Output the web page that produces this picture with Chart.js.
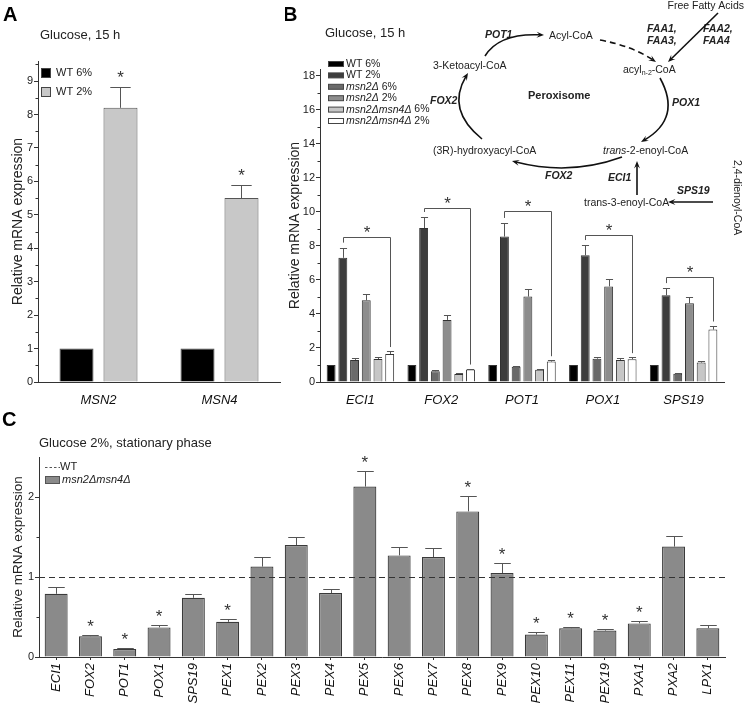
<!DOCTYPE html>
<html>
<head>
<meta charset="utf-8">
<script src="https://cdn.jsdelivr.net/npm/chart.js"></script>
<style>
  html,body{margin:0;padding:0;background:#fff;}
  #wrap{position:relative;width:745px;height:704px;overflow:hidden;}
  .box{position:absolute;}
</style>
</head>
<body>
<div id="wrap">
  <div class="box" style="left:0;top:0;width:285px;height:405px"><canvas id="cA"></canvas></div>
  <div class="box" style="left:285px;top:0;width:460px;height:405px"><canvas id="cB"></canvas></div>
  <div class="box" style="left:0;top:400px;width:745px;height:304px"><canvas id="cC"></canvas></div>
</div>
<script>
// ---- panel A data
const genesA = ['MSN2', 'MSN4'];
const aWt6 = [1, 1];
const aWt2 = [8.2, 5.5];
const aWt2Err = [8.83, 5.88];
const aWt2Sig = [1, 1];

// ---- panel B data
const genesB = ['ECI1', 'FOX2', 'POT1', 'POX1', 'SPS19'];
const bWt6 = [1, 1, 1, 1, 1];
const bWt2 = [7.3, 9.05, 8.55, 7.45, 5.1];
const bWt2Err = [7.9, 9.7, 9.35, 8.05, 5.52];
const bMsn2_6 = [1.3, 0.63, 0.9, 1.37, 0.48];
const bMsn2_6Err = [1.42, 0.68, 0.96, 1.49, 0.52];
const bMsn2_2 = [4.8, 3.65, 5.02, 5.62, 4.63];
const bMsn2_2Err = [5.15, 3.94, 5.48, 6.06, 5.02];
const bDd6 = [1.35, 0.47, 0.72, 1.3, 1.14];
const bDd6Err = [1.47, 0.52, 0.78, 1.41, 1.22];
const bDd2 = [1.65, 0.73, 1.2, 1.34, 3.08];
const bDd2Err = [1.82, 0.79, 1.28, 1.46, 3.32];
const bBracket = [8.5, 10.2, 10.08, 8.65, 6.2];

// ---- panel C data
const genesC = ['ECI1','FOX2','POT1','POX1','SPS19','PEX1','PEX2','PEX3','PEX4','PEX5','PEX6','PEX7','PEX8','PEX9','PEX10','PEX11','PEX19','PXA1','PXA2','LPX1'];
const cDd = [0.79, 0.26, 0.1, 0.37, 0.74, 0.44, 1.13, 1.4, 0.8, 2.13, 1.27, 1.25, 1.82, 1.05, 0.28, 0.36, 0.33, 0.42, 1.38, 0.36];
const cDdErr = [0.87, 0.28, 0.11, 0.4, 0.79, 0.48, 1.25, 1.5, 0.85, 2.33, 1.37, 1.36, 2.01, 1.17, 0.31, 0.375, 0.35, 0.45, 1.51, 0.4];
const cDdSig = [0, 1, 1, 1, 0, 1, 0, 0, 0, 1, 0, 0, 1, 1, 1, 1, 1, 1, 0, 0];
const cWtLevel = 1;

const FONT = '"Liberation Sans", Arial, Helvetica, sans-serif';
Chart.defaults.font.family = FONT;
Chart.defaults.color = '#222';
Chart.defaults.animation = false;

function txt(ctx, s, x, y, font, align, color){
  ctx.save(); ctx.font = font; ctx.fillStyle = color || '#222';
  ctx.textAlign = align || 'left'; ctx.textBaseline = 'middle';
  ctx.fillText(s, x, y); ctx.restore();
}
// star centred on (x, cy)
function star(ctx, x, cy, size){
  ctx.save(); ctx.font = size + 'px ' + FONT; ctx.fillStyle = '#333';
  ctx.textAlign = 'center'; ctx.textBaseline = 'alphabetic';
  ctx.fillText('*', x, cy + 0.57 * size); ctx.restore();
}
function errorBars(chart, capFrac, starGap){
  const ctx = chart.ctx, ys = chart.scales.y;
  chart.data.datasets.forEach((ds, i) => {
    if(!ds.errTop) return;
    chart.getDatasetMeta(i).data.forEach((bar, j) => {
      const top = Math.round(ys.getPixelForValue(ds.errTop[j])) + 0.5;
      const x = Math.round(bar.x) + 0.5, w = bar.width * capFrac;
      ctx.save(); ctx.strokeStyle = '#555'; ctx.lineWidth = 1;
      ctx.beginPath(); ctx.moveTo(x, bar.y); ctx.lineTo(x, top);
      ctx.moveTo(x - w/2, top); ctx.lineTo(x + w/2, top); ctx.stroke(); ctx.restore();
      if(ds.sig && ds.sig[j]) star(ctx, bar.x, top - starGap, 17);
    });
  });
}
function minorTicks(chart, major){
  const ys = chart.scales.y, ctx = chart.ctx, x = chart.chartArea.left;
  ctx.save(); ctx.strokeStyle = '#333'; ctx.lineWidth = 1; ctx.beginPath();
  for(let v = major/2; v < ys.max; v += major){
    const y = Math.round(ys.getPixelForValue(v)) + 0.5;
    ctx.moveTo(x - 2.5, y); ctx.lineTo(x, y);
  }
  ctx.stroke(); ctx.restore();
}
function yAxis(max, step, width, titlePad, titleSize){
  return {
    min: 0, max: max,
    afterFit: s => { s.width = width; },
    afterBuildTicks: s => { const t = []; for(let v = 0; v <= max + 1e-9; v += step) t.push({ value: v }); s.ticks = t; },
    ticks: { stepSize: step, padding: 1, font: { size: 11 }, color: '#222', autoSkip: false },
    grid: { drawOnChartArea: false, tickLength: 4, color: '#333' },
    border: { color: '#333' },
    title: { display: true, text: 'Relative mRNA expression', font: { size: titleSize }, color: '#222', padding: { top: titlePad, bottom: 0 } }
  };
}

// ---------------- Panel A
new Chart(document.getElementById('cA'), {
  type: 'bar',
  data: {
    labels: genesA,
    datasets: [
      { label: 'WT 6%', data: aWt6, backgroundColor: '#000', borderColor: '#444', borderWidth: 1 },
      { label: 'WT 2%', data: aWt2, errTop: aWt2Err, sig: aWt2Sig, backgroundColor: '#c8c8c8', borderColor: '#555', borderWidth: 1 }
    ]
  },
  options: {
    responsive: true, maintainAspectRatio: false,
    layout: { padding: { top: 61, right: 5, left: 0, bottom: 0 } },
    datasets: { bar: { categoryPercentage: 0.727, barPercentage: 0.773 } },
    plugins: { legend: { display: false }, tooltip: { enabled: false } },
    scales: {
      x: { afterFit: s => { s.height = 23; }, grid: { display: false }, border: { color: '#333' },
           ticks: { padding: 3, font: { size: 13, style: 'italic' }, color: '#111' } },
      y: yAxis(9.6, 1, 38, 10, 14)
    }
  },
  plugins: [{ id: 'decorA', afterDatasetsDraw(chart){
    const ctx = chart.ctx;
    errorBars(chart, 0.6, 14);
    minorTicks(chart, 1);
    txt(ctx, 'A', 3, 15, 'bold 20px ' + FONT, 'left', '#000');
    txt(ctx, 'Glucose, 15 h', 40, 35, '13px ' + FONT);
    chart.data.datasets.forEach((ds, i) => {
      const y = 73 + i * 19;
      ctx.fillStyle = ds.backgroundColor; ctx.fillRect(41, y - 5, 10, 10);
      ctx.strokeStyle = '#444'; ctx.lineWidth = 1; ctx.strokeRect(41.5, y - 4.5, 9, 9);
      txt(ctx, ds.label, 56, y, '11px ' + FONT);
    });
  }}]
});

// ---------------- Panel B
function arrowHead(ctx, x, y, ang, size){
  ctx.beginPath(); ctx.moveTo(x, y);
  ctx.lineTo(x - size * Math.cos(ang - 0.38), y - size * Math.sin(ang - 0.38));
  ctx.lineTo(x - size * 0.55 * Math.cos(ang), y - size * 0.55 * Math.sin(ang));
  ctx.lineTo(x - size * Math.cos(ang + 0.38), y - size * Math.sin(ang + 0.38));
  ctx.closePath(); ctx.fill();
}
function arrow(ctx, p0, c, p1, dash){
  const ang = Math.atan2(p1[1] - c[1], p1[0] - c[0]);
  const e = [p1[0] - 4 * Math.cos(ang), p1[1] - 4 * Math.sin(ang)];
  ctx.save(); ctx.lineWidth = 1.6; ctx.strokeStyle = '#111'; ctx.fillStyle = '#111';
  if(dash) ctx.setLineDash(dash);
  ctx.beginPath(); ctx.moveTo(p0[0], p0[1]); ctx.quadraticCurveTo(c[0], c[1], e[0], e[1]); ctx.stroke();
  ctx.setLineDash([]); arrowHead(ctx, p1[0], p1[1], ang, 8); ctx.restore();
}
function line(ctx, p0, p1){ arrow(ctx, p0, [(p0[0] + p1[0]) / 2, (p0[1] + p1[1]) / 2], p1); }

function drawPathway(ctx){
  const f = '10.5px ' + FONT, fb = 'italic bold 10.5px ' + FONT;
  txt(ctx, 'Free Fatty Acids', 744, 6, f, 'right');
  txt(ctx, 'FAA1,', 647, 29, fb); txt(ctx, 'FAA3,', 647, 41, fb);
  txt(ctx, 'FAA2,', 703, 29, fb); txt(ctx, 'FAA4', 703, 41, fb);
  txt(ctx, 'POT1', 485, 35, fb);
  txt(ctx, 'Acyl-CoA', 549, 36, f);
  txt(ctx, '3-Ketoacyl-CoA', 433, 66, f);
  // acyl n-2 CoA
  ctx.save(); ctx.font = f; const w1 = ctx.measureText('acyl').width; ctx.restore();
  txt(ctx, 'acyl', 623, 70, f);
  ctx.save(); ctx.font = '7px ' + FONT; const w2 = ctx.measureText('n-2').width; ctx.restore();
  txt(ctx, 'n-2', 623 + w1, 73, '7px ' + FONT);
  txt(ctx, '-CoA', 623 + w1 + w2, 70, f);
  txt(ctx, 'FOX2', 430, 101, fb);
  txt(ctx, 'Peroxisome', 528, 96, 'bold 11px ' + FONT);
  txt(ctx, 'POX1', 672, 103, fb);
  txt(ctx, '(3R)-hydroxyacyl-CoA', 433, 151, f);
  ctx.save(); ctx.font = 'italic 10.5px ' + FONT; const w3 = ctx.measureText('trans').width; ctx.restore();
  txt(ctx, 'trans', 603, 151, 'italic 10.5px ' + FONT);
  txt(ctx, '-2-enoyl-CoA', 603 + w3, 151, f);
  txt(ctx, 'FOX2', 545, 176, fb);
  txt(ctx, 'ECI1', 608, 178, fb);
  txt(ctx, 'SPS19', 677, 191, fb);
  txt(ctx, 'trans-3-enoyl-CoA', 584, 203, f);
  ctx.save(); ctx.translate(737, 160); ctx.rotate(Math.PI / 2); txt(ctx, '2,4-dienoyl-CoA', 0, 0, f); ctx.restore();

  arrow(ctx, [485, 56], [499, 33], [544, 35]);
  arrow(ctx, [600, 40], [632, 46], [656, 62], [6, 4]);
  line(ctx, [718, 13], [668, 62]);
  arrow(ctx, [660, 78], [682, 118], [641, 142]);
  arrow(ctx, [622, 157], [570, 176], [512, 161]);
  arrow(ctx, [482, 139], [446, 110], [468, 73]);
  line(ctx, [637, 195], [637, 161]);
  line(ctx, [713, 202], [668, 202]);
}

new Chart(document.getElementById('cB'), {
  type: 'bar',
  data: {
    labels: genesB,
    datasets: [
      { label: 'WT 6%', data: bWt6, backgroundColor: '#000000' },
      { label: 'WT 2%', data: bWt2, errTop: bWt2Err, backgroundColor: '#3d3d3d' },
      { label: 'msn2Δ| 6%', data: bMsn2_6, errTop: bMsn2_6Err, backgroundColor: '#6a6a6a' },
      { label: 'msn2Δ| 2%', data: bMsn2_2, errTop: bMsn2_2Err, backgroundColor: '#8d8d8d' },
      { label: 'msn2Δmsn4Δ| 6%', data: bDd6, errTop: bDd6Err, backgroundColor: '#c6c6c6' },
      { label: 'msn2Δmsn4Δ| 2%', data: bDd2, errTop: bDd2Err, backgroundColor: '#ffffff' }
    ]
  },
  options: {
    responsive: true, maintainAspectRatio: false,
    layout: { padding: { top: 69, right: 21, left: 0, bottom: 0 } },
    datasets: { bar: { categoryPercentage: 0.87, barPercentage: 0.76, borderColor: '#333', borderWidth: 1 } },
    plugins: { legend: { display: false }, tooltip: { enabled: false } },
    scales: {
      x: { afterFit: s => { s.height = 23; }, grid: { display: false }, border: { color: '#333' },
           ticks: { padding: 3, font: { size: 13, style: 'italic' }, color: '#111' } },
      y: yAxis(18.4, 2, 35, 2, 14)
    }
  },
  plugins: [{ id: 'decorB', afterDatasetsDraw(chart){
    const ctx = chart.ctx, ys = chart.scales.y;
    errorBars(chart, 0.8, 12);
    minorTicks(chart, 2);
    // brackets WT 2% vs msn2Δmsn4Δ 2%
    const mL = chart.getDatasetMeta(1), mR = chart.getDatasetMeta(5);
    genesB.forEach((g, j) => {
      const x1 = Math.round(mL.data[j].x) + 0.5, x2 = Math.round(mR.data[j].x) + 0.5;
      const yb = Math.round(ys.getPixelForValue(bBracket[j])) + 0.5;
      const yl = ys.getPixelForValue(bWt2Err[j]) - 5, yr = ys.getPixelForValue(bDd2Err[j]) - 4;
      ctx.save(); ctx.strokeStyle = '#555'; ctx.lineWidth = 1; ctx.beginPath();
      ctx.moveTo(x1, yl); ctx.lineTo(x1, yb); ctx.lineTo(x2, yb); ctx.lineTo(x2, yr); ctx.stroke(); ctx.restore();
      star(ctx, (x1 + x2) / 2, yb - 9, 17);
    });
    ctx.save(); ctx.translate(-285, 0);
    txt(ctx, 'B', 283, 15, 'bold 20px ' + FONT, 'left', '#000');
    txt(ctx, 'Glucose, 15 h', 325, 33, '13px ' + FONT);
    chart.data.datasets.forEach((ds, i) => {
      const y = 64 + i * 11.4;
      ctx.fillStyle = ds.backgroundColor; ctx.fillRect(328, y - 2.5, 16, 5);
      ctx.strokeStyle = '#444'; ctx.lineWidth = 1; ctx.strokeRect(328.5, y - 2.5, 15, 5);
      const parts = ds.label.split('|');
      if(parts.length > 1){
        ctx.save(); ctx.font = 'italic 10.5px ' + FONT; const w = ctx.measureText(parts[0]).width; ctx.restore();
        txt(ctx, parts[0], 346, y, 'italic 10.5px ' + FONT);
        txt(ctx, parts[1], 346 + w, y, '10.5px ' + FONT);
      } else txt(ctx, ds.label, 346, y, '10.5px ' + FONT);
    });
    drawPathway(ctx);
    ctx.restore();
  }}]
});

// ---------------- Panel C
new Chart(document.getElementById('cC'), {
  type: 'bar',
  data: {
    labels: genesC,
    datasets: [
      { label: 'msn2Δmsn4Δ', data: cDd, errTop: cDdErr, sig: cDdSig, backgroundColor: '#8a8a8a', borderColor: '#3a3a3a', borderWidth: 1.2 }
    ]
  },
  options: {
    responsive: true, maintainAspectRatio: false,
    layout: { padding: { top: 57, right: 20, left: 0, bottom: 0 } },
    datasets: { bar: { categoryPercentage: 1, barPercentage: 0.67 } },
    plugins: { legend: { display: false }, tooltip: { enabled: false } },
    scales: {
      x: { afterFit: s => { s.height = 47; },
           grid: { display: true, drawOnChartArea: false, offset: false, tickLength: 3, color: '#333' }, border: { color: '#333' },
           ticks: { padding: 3, minRotation: 90, maxRotation: 90, font: { size: 13, style: 'italic' }, color: '#111' } },
      y: yAxis(2.5, 1, 39, 10, 13.5)
    }
  },
  plugins: [{ id: 'decorC', afterDatasetsDraw(chart){
    const ctx = chart.ctx, ys = chart.scales.y, ca = chart.chartArea;
    minorTicks(chart, 1);
    const yw = Math.round(ys.getPixelForValue(cWtLevel)) + 0.5;
    ctx.save(); ctx.strokeStyle = '#333'; ctx.lineWidth = 1.2; ctx.setLineDash([6, 4]);
    ctx.beginPath(); ctx.moveTo(ca.left, yw); ctx.lineTo(ca.right, yw); ctx.stroke(); ctx.restore();
    errorBars(chart, 0.72, 13);
    txt(ctx, 'C', 2, 20, 'bold 20px ' + FONT, 'left', '#000');
    txt(ctx, 'Glucose 2%, stationary phase', 39, 43, '13px ' + FONT);
    ctx.save(); ctx.strokeStyle = '#555'; ctx.lineWidth = 1; ctx.setLineDash([2.5, 2]);
    ctx.beginPath(); ctx.moveTo(45, 67.5); ctx.lineTo(60, 67.5); ctx.stroke(); ctx.restore();
    txt(ctx, 'WT', 60, 67, '11px ' + FONT);
    ctx.fillStyle = '#8a8a8a'; ctx.fillRect(45, 76, 15, 8);
    ctx.strokeStyle = '#555'; ctx.lineWidth = 1; ctx.strokeRect(45.5, 76.5, 14, 7);
    txt(ctx, chart.data.datasets[0].label, 62, 80, 'italic 11px ' + FONT);
  }}]
});
</script>
</body>
</html>
